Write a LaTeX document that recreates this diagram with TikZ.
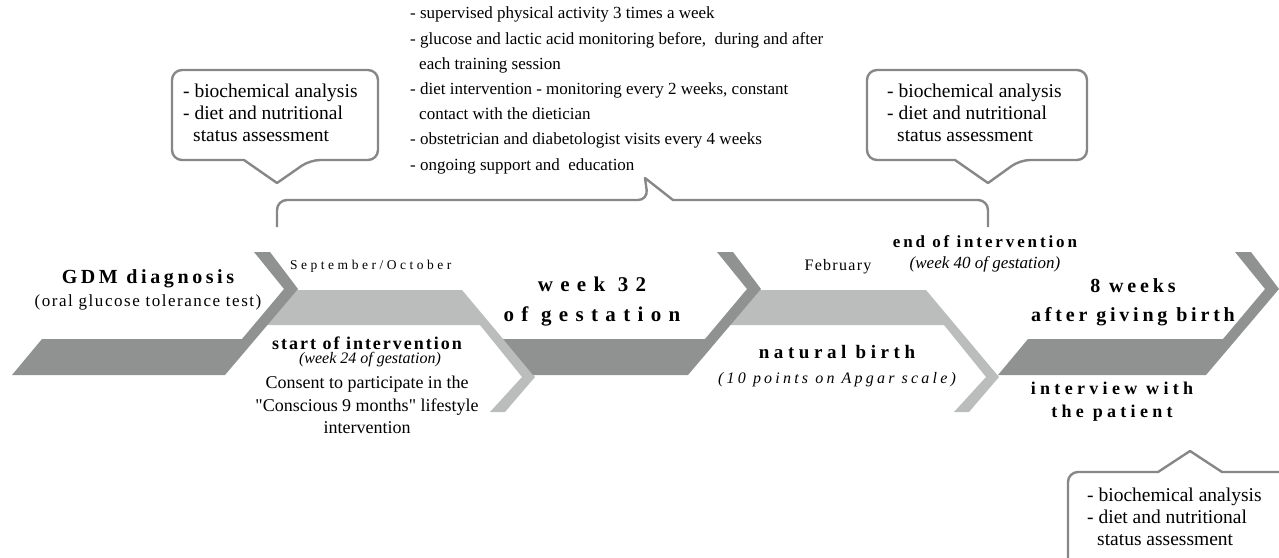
\documentclass[tikz,border=0pt]{standalone}
\usepackage{fontspec}
\setmainfont{Liberation Serif}[Ligatures=TeXOff]
\usetikzlibrary{positioning}

\definecolor{bandDark}{RGB}{143,146,145}
\definecolor{bandLight}{RGB}{187,188,188}
\definecolor{calloutGray}{RGB}{135,135,135}

\newcommand{\fs}[2]{\fontsize{#1}{#2}\selectfont}
\newcommand{\track}[1]{\addfontfeatures{LetterSpace=#1}}

\tikzset{
  darkband/.style={fill=bandDark},
  lightband/.style={fill=bandLight},
  callout/.style={draw=calloutGray,line width=2.4pt,line join=round},
  lbl/.style={inner sep=0pt,align=center},
  boxtext/.style={inner sep=0pt,align=left,anchor=west,font=\fs{19.5}{22}}
}

\begin{document}
\begin{tikzpicture}[x=1pt,y=-1pt]

    \useasboundingbox (0,0) rectangle (1279,557);

    % light bands
    \fill[lightband] (297,290)--(267,325)--(480,325)--(522,377)--(490,412)--(505,412)--(535,377)--(462,290)--cycle;
    \fill[lightband] (760,290)--(730,325)--(944,325)--(986,377)--(954,412)--(969,412)--(999,377)--(926,290)--cycle;

    % dark bands
    \fill[darkband] (12,375)--(42,339)--(242,339)--(284,289)--(254,252)--(270,252)--(298,289)--(225,375)--cycle;
    \fill[darkband] (533,375)--(503,339)--(705,339)--(747,289)--(717,252)--(733,252)--(761,289)--(688,375)--cycle;
    \fill[darkband] (998,375)--(1028,339)--(1223,339)--(1265,289)--(1235,252)--(1251,252)--(1279,289)--(1206,375)--cycle;

    % callouts
    \draw[callout] (210,160) [rounded corners=10pt]--(172,160)--(172,70)--(378,70)--(378,160)--(310,160) [sharp corners]--(277,183)--(244,160)--cycle;
    \draw[callout] (920,160) [rounded corners=10pt]--(867,160)--(867,70)--(1087,70)--(1087,160)--(1020,160) [sharp corners]--(988,183)--(955,160)--cycle;
    \draw[callout] (277,227) [rounded corners=10pt]--(277,200)--(648,200) [sharp corners]--(645,178)--(673,200) [rounded corners=10pt]--(988,200)--(988,227);
    \draw[callout] (1285,472)--(1222,472)--(1190,451)--(1158,472) [rounded corners=10pt]--(1068,472)--(1068,565);

    % callout texts
    \node[boxtext] (checkA) at (183,113) {- biochemical analysis\\- diet and nutritional\\\hspace*{10pt}status assessment};
    \node[boxtext] (checkB) at (887,113) {- biochemical analysis\\- diet and nutritional\\\hspace*{10pt}status assessment};
    \node[boxtext] (checkC) at (1087,517) {- biochemical analysis\\- diet and nutritional\\\hspace*{10pt}status assessment};
    \node[lbl,anchor=west,align=left,font=\fs{17}{25.2}] (plan) at (410,90.5) {- supervised physical activity 3 times a week\\- glucose and lactic acid monitoring before,~ during and after\\\hspace*{9pt}each training session\\- diet intervention - monitoring every 2 weeks, constant\\\hspace*{9pt}contact with the dietician\\- obstetrician and diabetologist visits every 4 weeks\\- ongoing support and~ education};

    % timeline labels
    \node[lbl,font=\bfseries\fs{20}{23}\track{18}] (gdm) at (148,279) {GDM diagnosis};
    \node[lbl,font=\fs{17}{21}\track{9}] (ogtt) at (148,302) {(oral glucose tolerance test)};
    \node[lbl,anchor=west,font=\fs{13.5}{16}\track{26}] (sept) at (290,266) {September/October};
    \node[lbl,font=\bfseries\fs{18}{20}\track{11}] (start) at (367,343) {start of intervention};
    \node[lbl,font=\itshape\fs{16}{20}] (wk24) at (370,360) {(week 24 of gestation)};
    \node[lbl,font=\fs{18}{22.5}] (consent) at (367,405) {Consent to participate in the\\"Conscious 9 months" lifestyle\\intervention};
    \node[lbl,font=\bfseries\fs{21}{30}\track{35}] (wk32) at (592,302) {week 32\\of gestation};
    \node[lbl,font=\fs{16}{18}\track{8}] (feb) at (838,267) {February};
    \node[lbl,font=\bfseries\fs{17}{20}\track{17}] (endint) at (985,242) {end of intervention};
    \node[lbl,font=\itshape\fs{17}{20}] (wk40) at (985,264) {(week 40 of gestation)};
    \node[lbl,font=\bfseries\fs{19}{22}\track{24}] (birth) at (837,352) {natural birth};
    \node[lbl,font=\itshape\fs{16}{20}\track{20}] (apgar) at (837,380) {(10 points on Apgar scale)};
    \node[lbl,font=\bfseries\fs{20}{29}\track{19}] (postpartum) at (1133,302.5) {8 weeks\\after giving birth};
    \node[lbl,font=\bfseries\fs{18}{23}\track{24}] (interview) at (1112,401.5) {interview with\\the patient};

\end{tikzpicture}
\end{document}
